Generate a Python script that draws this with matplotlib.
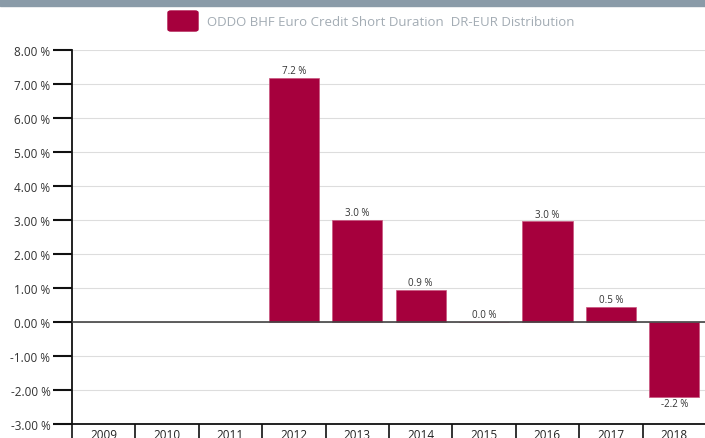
import matplotlib.pyplot as plt
import numpy as np
from matplotlib.patches import Rectangle, FancyBboxPatch

years = ['2009', '2010', '2011', '2012', '2013', '2014', '2015', '2016', '2017', '2018']
perf = [np.nan, np.nan, np.nan, 7.18, 3.0, 0.94, 0.0, 2.96, 0.45, -2.2]
labels = ['', '', '', '7.2 %', '3.0 %', '0.9 %', '0.0 %', '3.0 %', '0.5 %', '-2.2 %']
yticks = [-3, -2, -1, 0, 1, 2, 3, 4, 5, 6, 7, 8]
series = 'ODDO BHF Euro Credit Short Duration  DR-EUR Distribution'

bar_col = '#a6003d'
plt.rcParams['font.family'] = ['Open Sans', 'DejaVu Sans']

fig = plt.figure(figsize=(7.05, 4.39), dpi=100)
W, H = 705, 439

# top banner
fig.patches.append(Rectangle((0, 1 - 7 / H), 1, 7 / H, transform=fig.transFigure,
                             color='#8a9ba8', zorder=0))

# legend
fig.patches.append(FancyBboxPatch((168 / W, 1 - 32 / H), 30 / W, 20 / H,
                                  boxstyle='round,pad=0,rounding_size=0.004',
                                  transform=fig.transFigure, color=bar_col))
fig.text(207 / W, 1 - 22 / H, series, fontsize=9.5, color='#a3acb4', va='center', ha='left')

ax = fig.add_axes([72 / W, 14 / H, 634 / W, 374 / H])
x = np.arange(len(years))
ax.bar(x, perf, width=0.79, color=bar_col, edgecolor='#c8557e', linewidth=0.5, zorder=3)

for xi, v, lab in zip(x, perf, labels):
    if not lab:
        continue
    if v >= 0:
        ax.text(xi, v + 0.05, lab, ha='center', va='bottom', fontsize=7, color='#333333', zorder=4)
    else:
        ax.text(xi, v - 0.05, lab, ha='center', va='top', fontsize=7, color='#333333', zorder=4)

ax.set_xlim(-0.5, len(years) - 0.5)
ax.set_ylim(-3, 8)
ax.set_yticks(yticks)
ax.set_yticklabels(['%.2f %%' % t for t in yticks])
ax.yaxis.grid(True, color='#dddddd', linewidth=0.8, zorder=0)
ax.axhline(0, color='#444444', linewidth=1.2, zorder=4)

ax.set_xticks(x)
ax.set_xticklabels(years)
ax.set_xticks(np.arange(-0.5, len(years)), minor=True)
ax.tick_params(axis='x', which='major', length=0, pad=3, labelsize=8.5, labelcolor='#222222')
ax.tick_params(axis='x', which='minor', length=14, width=1.2, color='#111111')
ax.tick_params(axis='y', length=13.5, width=1.5, pad=2, labelsize=8.5, labelcolor='#333333', color='#111111')

for s in ['top', 'right']:
    ax.spines[s].set_visible(False)
ax.spines['left'].set_linewidth(1.3)
ax.spines['bottom'].set_linewidth(1.3)
ax.spines['left'].set_color('#111111')
ax.spines['bottom'].set_color('#111111')

fig.savefig('out.png', dpi=100)
